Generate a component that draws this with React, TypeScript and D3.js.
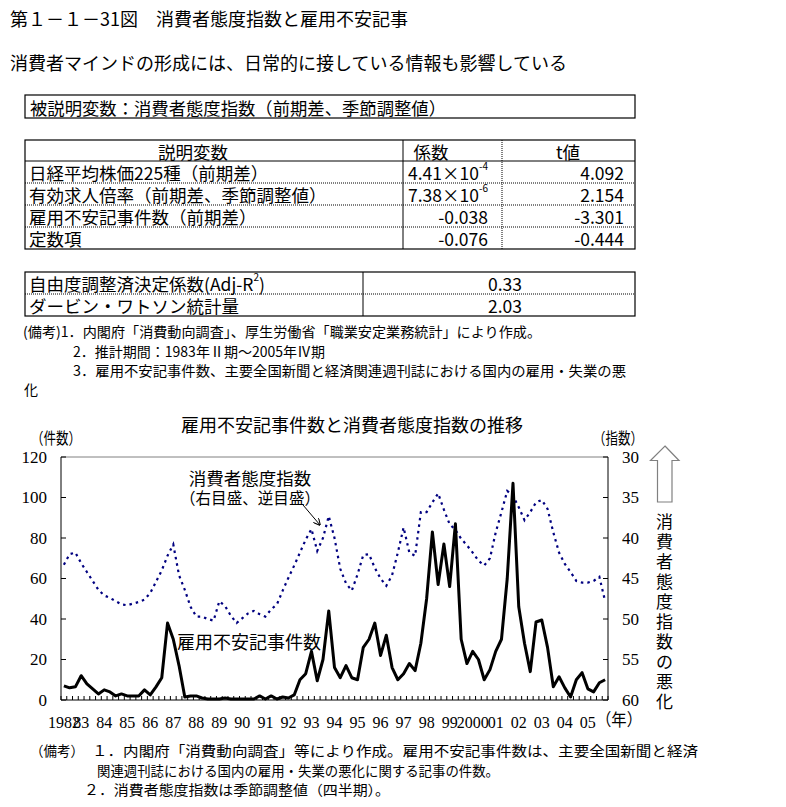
import React from "react";
import * as d3 from "d3";

// ---- data ----
const articleCounts = [
  7, 6, 6.5, 12, 8, 5.5, 3, 5, 4, 2,
  3, 2, 2, 2, 5, 2.5, 6.5, 11, 38, 30,
  17, 1.5, 2, 2, 1, 0.5, 0.5, 0.5, 1, 0.5,
  0.5, 0.5, 0.5, 0.5, 2, 0.5, 2, 0.5, 1.5, 1,
  2.5, 10, 13, 24, 9.5, 20, 44, 16, 11, 17,
  11, 10, 26, 30, 38, 22, 32, 16, 10, 13,
  18, 14.5, 28, 50, 83, 57, 77, 56, 87, 30,
  18, 24, 20, 10, 15, 24, 30, 60, 107, 46,
  28, 14, 38.5, 39.5, 26, 6.5, 11.5, 6, 1.5, 10,
  13.5, 5.5, 4, 8.5, 10,
];
const consumerIndex = [
  43.3, 42.0, 41.8, 43.1, 44.2, 45.3, 46.4, 47.1, 47.4, 47.8,
  48.2, 48.3, 48.1, 47.9, 47.6, 46.8, 45.4, 44.0, 42.2, 40.8,
  44.6, 46.4, 48.5, 49.7, 49.7, 50.0, 50.2, 47.8, 48.4, 49.6,
  50.5, 49.9, 49.3, 49.0, 49.4, 49.7, 48.8, 48.2, 46.5, 44.9,
  43.4, 41.8, 40.2, 38.9, 41.6, 40.0, 37.3, 40.0, 43.8, 45.6,
  46.5, 44.5, 42.1, 42.0, 43.7, 45.0, 45.9, 44.6, 41.8, 38.7,
  41.8, 42.2, 36.8, 36.8, 35.6, 34.5, 36.5, 38.3, 39.0, 40.1,
  40.9, 41.8, 42.8, 43.4, 42.5, 39.3, 36.8, 34.2, 34.8, 36.2,
  37.8, 36.8, 35.6, 35.3, 36.4, 39.3, 41.8, 43.2, 44.2, 45.3,
  45.5, 45.5, 45.3, 44.8, 47.8,
];
const yearLabels = [
  "1982", "83", "84", "85", "86", "87", "88", "89", "90", "91", "92", "93",
  "94", "95", "96", "97", "98", "99", "2000", "01", "02", "03", "04", "05",
];
const leftTicks = [0, 20, 40, 60, 80, 100, 120];
const rightTicks = [30, 35, 40, 45, 50, 55, 60];

const tableRows = [
  { label: "日経平均株価225種（前期差）", coef: "4.41×10", sup: "-4", t: "4.092" },
  { label: "有効求人倍率（前期差、季節調整値）", coef: "7.38×10", sup: "-6", t: "2.154" },
  { label: "雇用不安記事件数（前期差）", coef: "-0.038", sup: "", t: "-3.301" },
  { label: "定数項", coef: "-0.076", sup: "", t: "-0.444" },
];
const statRows = [
  { label: "自由度調整済決定係数(Adj-R", sup: "2", tail: ")", value: "0.33" },
  { label: "ダービン・ワトソン統計量", sup: "", tail: "", value: "2.03" },
];

// quarters 1982Q2 .. 2005Q4
const quarters: string[] = [];
for (let y = 1982; y <= 2005; y++) {
  for (let q = 1; q <= 4; q++) {
    if (y === 1982 && q === 1) continue;
    quarters.push(`${y}Q${q}`);
  }
}

const JP = "'Noto Sans CJK JP', 'Noto Sans', sans-serif";
const NUM = "'Liberation Serif', 'DejaVu Serif', serif";

export default function App() {
  const L = 61, R = 608, T = 457, B = 700;
  const x = d3.scaleBand<string>().domain(quarters).range([L, R]).padding(0);
  const cx = (q: string) => (x(q) as number) + x.bandwidth() / 2;
  const yL = d3.scaleLinear().domain([0, 120]).range([B, T]);
  const yR = d3.scaleLinear().domain([30, 60]).range([T, B]);

  const blackLine = d3
    .line<number>()
    .x((_, i) => cx(quarters[i]))
    .y((d) => yL(d))(articleCounts) as string;
  const blueLine = d3
    .line<number>()
    .x((_, i) => cx(quarters[i]))
    .y((d) => yR(d))(consumerIndex) as string;

  const labelQuarter = (i: number) => (i === 0 ? quarters[0] : `${1982 + i}Q1`);

  const tickXs = quarters.map((q) => x(q) as number).concat([R]);

  const vertText = "消費者態度指数の悪化".split("");

  return (
    <svg width={786} height={807} style={{ display: "block", position: "absolute", left: 0, top: 0, background: "#fff" }}>
      <rect x={0} y={0} width={786} height={807} fill="#fff" />
      <defs>
        <marker id="ah" viewBox="0 0 10 10" refX="9" refY="5" markerWidth="7" markerHeight="7" orient="auto">
          <path d="M0,0 L10,5 L0,10" fill="none" stroke="#000" strokeWidth={1.5} />
        </marker>
      </defs>

      {/* titles */}
      <text x={10} y={18} fontFamily={JP} fontSize={18} dominantBaseline="central">
        第１－１－31図　消費者態度指数と雇用不安記事
      </text>
      <text x={10} y={62} fontFamily={JP} fontSize={18} dominantBaseline="central">
        消費者マインドの形成には、日常的に接している情報も影響している
      </text>

      {/* table 1 */}
      <rect x={25} y={95} width={610} height={23} fill="none" stroke="#000" strokeWidth={1.2} />
      <text x={30} y={107} fontFamily={JP} fontSize={17.5} dominantBaseline="central" textLength={416} lengthAdjust="spacingAndGlyphs">
        被説明変数：消費者態度指数（前期差、季節調整値）
      </text>

      {/* table 2 */}
      <rect x={25} y={140} width={610} height={109} fill="none" stroke="#000" strokeWidth={1.2} />
      <line x1={25} x2={635} y1={161} y2={161} stroke="#000" strokeWidth={1} />
      {[183, 205, 227].map((yy) => (
        <line key={yy} x1={25} x2={635} y1={yy} y2={yy} stroke="#000" strokeWidth={1} strokeDasharray="1,1" />
      ))}
      <line x1={403} x2={403} y1={140} y2={249} stroke="#000" strokeWidth={1} />
      <line x1={502} x2={502} y1={140} y2={249} stroke="#000" strokeWidth={1} strokeDasharray="1,1" />
      <text x={193} y={151} fontFamily={JP} fontSize={17.5} textAnchor="middle" dominantBaseline="central">説明変数</text>
      <text x={431} y={151} fontFamily={JP} fontSize={17.5} textAnchor="middle" dominantBaseline="central">係数</text>
      <text x={568} y={151} fontFamily={JP} fontSize={17.5} textAnchor="middle" dominantBaseline="central">t値</text>
      {tableRows.map((r, i) => {
        const yy = 172 + i * 22;
        return (
          <g key={r.label}>
            <text x={29} y={yy} fontFamily={JP} fontSize={17.5} dominantBaseline="central">{r.label}</text>
            <text x={488} y={yy} fontFamily={JP} fontSize={17.5} textAnchor="end" dominantBaseline="central">
              {r.coef}
              {r.sup && (
                <tspan fontSize={10} dy={-7}>{r.sup}</tspan>
              )}
            </text>
            <text x={624} y={yy} fontFamily={JP} fontSize={17.5} textAnchor="end" dominantBaseline="central">{r.t}</text>
          </g>
        );
      })}

      {/* table 3 */}
      <rect x={25} y={272} width={610} height={44} fill="none" stroke="#000" strokeWidth={1.2} />
      <line x1={25} x2={635} y1={294} y2={294} stroke="#000" strokeWidth={1} strokeDasharray="1,1" />
      <line x1={363} x2={363} y1={272} y2={316} stroke="#000" strokeWidth={1} />
      {statRows.map((r, i) => {
        const yy = 283 + i * 22;
        return (
          <g key={r.label}>
            <text x={29} y={yy} fontFamily={JP} fontSize={17.5} dominantBaseline="central">
              {r.label}
              {r.sup && <tspan fontSize={10} dy={-7}>{r.sup}</tspan>}
              {r.tail && <tspan dy={7}>{r.tail}</tspan>}
            </text>
            <text x={505} y={yy} fontFamily={JP} fontSize={17.5} textAnchor="middle" dominantBaseline="central">{r.value}</text>
          </g>
        );
      })}

      {/* upper notes */}
      <text x={23} y={331} fontFamily={JP} fontSize={14} dominantBaseline="central" textLength={518} lengthAdjust="spacingAndGlyphs">
        (備考)1．内閣府「消費動向調査」、厚生労働省「職業安定業務統計」により作成。
      </text>
      <text x={73} y={351} fontFamily={JP} fontSize={14} dominantBaseline="central" textLength={252} lengthAdjust="spacingAndGlyphs">
        2．推計期間：1983年Ⅱ期～2005年Ⅳ期
      </text>
      <text x={73} y={370} fontFamily={JP} fontSize={14} dominantBaseline="central" textLength={553} lengthAdjust="spacingAndGlyphs">
        3．雇用不安記事件数、主要全国新聞と経済関連週刊誌における国内の雇用・失業の悪
      </text>
      <text x={24} y={389} fontFamily={JP} fontSize={14} dominantBaseline="central">化</text>

      {/* chart title */}
      <text x={181} y={424} fontFamily={JP} fontSize={18} dominantBaseline="central">
        雇用不安記事件数と消費者態度指数の推移
      </text>
      <text x={31} y={437} fontFamily={JP} fontSize={16} dominantBaseline="central" textLength={50} lengthAdjust="spacingAndGlyphs">（件数）</text>
      <text x={593} y={437} fontFamily={JP} fontSize={16} dominantBaseline="central" textLength={50} lengthAdjust="spacingAndGlyphs">（指数）</text>

      {/* frame */}
      <line x1={L} x2={R} y1={T} y2={T} stroke="#808080" strokeWidth={1} />
      <line x1={L} x2={L} y1={T} y2={B} stroke="#000" strokeWidth={1} />
      <line x1={R} x2={R} y1={T} y2={B} stroke="#000" strokeWidth={1} />
      <line x1={L} x2={R} y1={B} y2={B} stroke="#000" strokeWidth={1} />

      {/* bottom quarter ticks */}
      {tickXs.map((tx, i) => (
        <line key={i} x1={tx} x2={tx} y1={B} y2={B - 4} stroke="#000" strokeWidth={1} />
      ))}
      {/* left ticks & labels */}
      {leftTicks.map((v) => (
        <g key={v}>
          <line x1={L} x2={L + 5} y1={yL(v)} y2={yL(v)} stroke="#000" strokeWidth={1} />
          <text x={47} y={yL(v)} fontFamily={NUM} fontSize={17} textAnchor="end" dominantBaseline="central">{v}</text>
        </g>
      ))}
      {/* right ticks & labels */}
      {rightTicks.map((v) => (
        <g key={v}>
          <line x1={R - 5} x2={R} y1={yR(v)} y2={yR(v)} stroke="#000" strokeWidth={1} />
          <text x={622} y={yR(v)} fontFamily={NUM} fontSize={17} dominantBaseline="central">{v}</text>
        </g>
      ))}
      {/* x labels */}
      {yearLabels.map((lab, i) => (
        <text key={lab} x={cx(labelQuarter(i))} y={722} fontFamily={NUM} fontSize={16} textAnchor="middle" dominantBaseline="central">{lab}</text>
      ))}
      <text x={596} y={718} fontFamily={JP} fontSize={17} dominantBaseline="central" textLength={46} lengthAdjust="spacingAndGlyphs">（年）</text>

      {/* series */}
      <path d={blueLine} fill="none" stroke="#000080" strokeWidth={2.2} strokeDasharray="2.5,4" />
      <path d={blackLine} fill="none" stroke="#000" strokeWidth={3} strokeLinejoin="round" />

      {/* annotations */}
      <text x={250} y={477} fontFamily={JP} fontSize={17.5} textAnchor="middle" dominantBaseline="central">消費者態度指数</text>
      <text x={250} y={497} fontFamily={JP} fontSize={16} textAnchor="middle" dominantBaseline="central" textLength={140} lengthAdjust="spacingAndGlyphs">（右目盛、逆目盛）</text>
      <line x1={303} y1={505} x2={320} y2={525} stroke="#000" strokeWidth={1} markerEnd="url(#ah)" />
      <text x={249} y={641} fontFamily={JP} fontSize={18} textAnchor="middle" dominantBaseline="central">雇用不安記事件数</text>

      {/* right arrow & vertical text */}
      <path d="M665,446 L679,460.5 L672,460.5 L672,502 L657.5,502 L657.5,460.5 L650.5,460.5 Z" fill="#fff" stroke="#808080" strokeWidth={1.2} />
      {vertText.map((ch, i) => (
        <text key={i} x={664.5} y={520 + i * 20} fontFamily={JP} fontSize={17} textAnchor="middle" dominantBaseline="central">{ch}</text>
      ))}

      {/* bottom notes */}
      <text x={30} y={750} fontFamily={JP} fontSize={14} dominantBaseline="central" textLength={54} lengthAdjust="spacingAndGlyphs">
        （備考）
      </text>
      <text x={92} y={750} fontFamily={JP} fontSize={14} dominantBaseline="central" textLength={606} lengthAdjust="spacingAndGlyphs">
        １．内閣府「消費動向調査」等により作成。雇用不安記事件数は、主要全国新聞と経済
      </text>
      <text x={97} y={770} fontFamily={JP} fontSize={14} dominantBaseline="central" textLength={402} lengthAdjust="spacingAndGlyphs">
        関連週刊誌における国内の雇用・失業の悪化に関する記事の件数。
      </text>
      <text x={84} y={789} fontFamily={JP} fontSize={14} dominantBaseline="central" textLength={306} lengthAdjust="spacingAndGlyphs">
        ２．消費者態度指数は季節調整値（四半期）。
      </text>
    </svg>
  );
}
